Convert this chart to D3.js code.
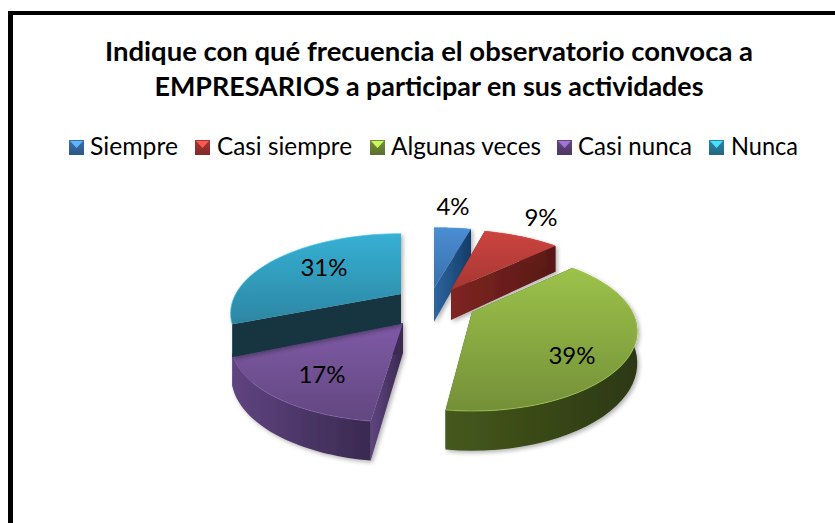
<!DOCTYPE html>
<html><head><meta charset="utf-8">
<script src="https://cdn.jsdelivr.net/npm/d3@7/dist/d3.min.js"></script>
<style>html,body{margin:0;background:#fff;overflow:hidden}text{font-family:Lato,"Open Sans",sans-serif;fill:#000}</style>
</head><body><svg id="c" width="835" height="523"></svg>
<script>
const categories = ["Siempre","Casi siempre","Algunas veces","Casi nunca","Nunca"];
const values = [4,9,39,17,31];
const titleLines = ["Indique con qué frecuencia el observatorio convoca a","EMPRESARIOS a participar en sus actividades"];

// layout and style, kept apart from the data
const topColors  = [["#4a8ed2","#3a70ac"],["#cc4440","#a63632"],["#9cc24a","#749038"],["#7f5aa6","#624780"],["#36b0d4","#2c86a2"]];
const wallColors = [["#2f669f","#123c68"],["#7f2522","#571815"],["#46591c","#2c3812"],["#5f4480","#3a2950"],["#13363f","#13363f"]];
const apex = [[434,288],[451,290],[472,312],[403,323],[401,294]];
const rxScale = [1.1,1,0.96,0.99,0.99];
const depthScale = [1.13,1,1,1,1];
const shear = [0,0,0,5,0];
const outerWall = [true,true,true,true,false];
const labelPos = [[453,207],[541,218],[572,356],[322,375],[324,268]];
const legendX = [[69,90],[195,217],[370,391],[557,578],[709,731]];
const legendW = [88,135,150,114,67];
const titleW = [648,549];
const R=167,K=0.243,A=75,H=30;

const svg=d3.select("#c");
const defs=svg.append("defs");
const f=defs.append("filter").attr("id","sh").attr("x","-10%").attr("y","-10%").attr("width","125%").attr("height","125%");
f.append("feDropShadow").attr("dx",2).attr("dy",2).attr("stdDeviation",2).attr("flood-color","#000").attr("flood-opacity",.3);

function grad(id,cols,vert){
  const g=defs.append("linearGradient").attr("id",id).attr("x1",0).attr("y1",0).attr("x2",vert?0:1).attr("y2",vert?1:0);
  g.append("stop").attr("offset",0).attr("stop-color",cols[0]);
  g.append("stop").attr("offset",1).attr("stop-color",cols[1]);
}
categories.forEach((c,i)=>{
  grad("t"+i,topColors[i],true);
  grad("w"+i,wallColors[i],false);
  grad("m"+i,[topColors[i][1],d3.color(topColors[i][1]).darker(.7).formatHex()],true);
});

// frame
svg.append("rect").attr("x",8).attr("y",11).attr("width",827).attr("height",4).attr("fill","#000");
svg.append("rect").attr("x",8).attr("y",11).attr("width",5).attr("height",512).attr("fill","#000");

// title
svg.selectAll("text.title").data(titleLines).join("text").attr("class","title")
  .attr("x",429).attr("y",(d,i)=>[61,96][i]).attr("text-anchor","middle")
  .attr("font-weight",700).attr("font-size",27).attr("textLength",(d,i)=>titleW[i]).attr("lengthAdjust","spacingAndGlyphs").text(d=>d);

// legend
const lg=svg.selectAll("g.lg").data(categories).join("g").attr("class","lg");
lg.append("rect").attr("x",(d,i)=>legendX[i][0]).attr("y",140).attr("width",15).attr("height",15)
  .attr("fill",(d,i)=>`url(#m${i})`);
lg.append("path").attr("d",(d,i)=>{const x=legendX[i][0];return d3.line()([[x+1,141],[x+14,141],[x+7.5,148]])+"Z";})
  .attr("fill",(d,i)=>d3.color(topColors[i][0]).brighter(.7));
lg.append("text").attr("x",(d,i)=>legendX[i][1]).attr("y",155).attr("font-size",25)
  .attr("textLength",(d,i)=>legendW[i]).attr("lengthAdjust","spacingAndGlyphs").text(d=>d);

// perspective pie
const arcs=d3.pie().sort(null).value(d=>d)(values);
const proj=(i,a,r)=>{
  const u=r*R*rxScale[i]*Math.sin(a),v=r*Math.cos(a),s=1/(1+K*v);
  return {x:apex[i][0]+u*s+shear[i]*v,y:apex[i][1]-v*A*s,d:H*depthScale[i]*s};
};
const lineGen=d3.line();
arcs.forEach((d,i)=>{
  const g=svg.append("g").attr("filter","url(#sh)");
  const ang=d3.range(0,41).map(t=>d.startAngle+(d.endAngle-d.startAngle)*t/40);
  const rim=ang.map(a=>proj(i,a,1));
  const c=proj(i,0,0);
  const face=(p)=>lineGen([[c.x,c.y],[p.x,p.y],[p.x,p.y+p.d],[c.x,c.y+c.d]])+"Z";
  g.append("path").attr("d",face(rim[0])).attr("fill",`url(#w${i})`);
  g.append("path").attr("d",face(rim[40])).attr("fill",`url(#w${i})`);
  if(outerWall[i]){
    const wall=rim.map(p=>[p.x,p.y]).concat(rim.slice().reverse().map(p=>[p.x,p.y+p.d]));
    g.append("path").attr("d",lineGen(wall)+"Z").attr("fill",`url(#w${i})`);
  }
  const top=[[c.x,c.y]].concat(rim.map(p=>[p.x,p.y]));
  g.append("path").attr("d",lineGen(top)+"Z").attr("fill",`url(#t${i})`);
  g.append("path").attr("d",lineGen(rim.map(p=>[p.x,p.y]))).attr("fill","none")
    .attr("stroke",d3.color(topColors[i][0]).brighter(.3)).attr("stroke-width",1).attr("stroke-opacity",.6);
});

// labels
svg.selectAll("text.lab").data(arcs).join("text").attr("class","lab")
  .attr("x",(d,i)=>labelPos[i][0]).attr("y",(d,i)=>labelPos[i][1]+8).attr("text-anchor","middle")
  .attr("font-size",24).text(d=>d.value+"%");
</script></body></html>
